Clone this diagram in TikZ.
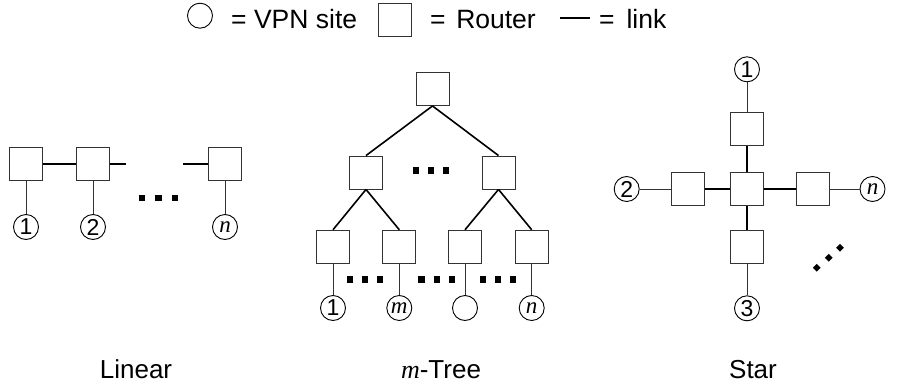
\documentclass[tikz,border=0pt]{standalone}
\usepackage{fontspec}
\setmainfont{Liberation Sans}
\newfontfamily\tnr{Liberation Serif}
\begin{document}
\begin{tikzpicture}[x=1pt,y=-1pt,
 router/.style={draw=black!80, line width=0.9pt, minimum size=33pt, inner sep=0pt, fill=white},
 site/.style={draw=black, line width=0.9pt, circle, minimum size=25pt, inner sep=0pt, font=\fontsize{23}{23}\selectfont},
 rlink/.style={line width=2pt, draw=black},
 slink/.style={line width=1pt, draw=black!80},
 sq/.style={fill=black, inner sep=0pt, minimum size=6.5pt},
 dia/.style={fill=black, inner sep=0pt, minimum size=5.5pt, rotate=45},
 lbl/.style={inner sep=0pt, font=\fontsize{26}{26}\selectfont},
 leg/.style={inner sep=0pt, anchor=base west, font=\fontsize{26.5}{26.5}\selectfont}]
\useasboundingbox (0,0) rectangle (902,388);
% legend
\node[site] (lgc) at (200,15.7) {};
\node[leg] (lgt1) at (231,28) {= VPN site};
\node[router] (lgr) at (394.5,19.5) {};
\node[leg] (lgt2) at (430,28) {=\hspace{0.4em}Router};
\coordinate (lga) at (560,18);
\coordinate (lgb) at (590,18);
\draw[line width=1.2pt] (lga) -- (lgb);
\node[leg] (lgt3) at (599,28) {=\hspace{0.45em}link};
% linear
\node[router] (l1) at (26,163.5) {};
\node[router] (l2) at (93,163.5) {};
\node[router] (ln) at (225,163.5) {};
\coordinate (l2e) at (126,163.5);
\coordinate (lns) at (183,163.5);
\draw[rlink] (l1) -- (l2);
\draw[rlink] (l2.east) -- (l2e);
\draw[rlink] (lns) -- (ln.west);
\node[site] (ls1) at (26,227) {1};
\node[site] (ls2) at (93,227) {2};
\node[site] (lsn) at (225,227) {\tnr\itshape n};
\draw[slink] (l1) -- (ls1);
\draw[slink] (l2) -- (ls2);
\draw[slink] (ln) -- (lsn);
\node[sq] (ld1) at (142,198) {};
\node[sq] (ld2) at (158.5,198) {};
\node[sq] (ld3) at (175,198) {};
\node[lbl, anchor=base] (llin) at (136,378) {Linear};
% tree
\node[router] (t0) at (432.5,89) {};
\node[router] (t1) at (366,172.5) {};
\node[router] (t2) at (498.5,172.5) {};
\node[router] (t3) at (333,246.7) {};
\node[router] (t4) at (399.3,246.7) {};
\node[router] (t5) at (465,246.7) {};
\node[router] (t6) at (531.7,246.7) {};
\draw[line width=1.6pt] (t0.south) -- (t1.north);
\draw[line width=1.6pt] (t0.south) -- (t2.north);
\draw[line width=1.6pt] (t1.south) -- (t3.north);
\draw[line width=1.6pt] (t1.south) -- (t4.north);
\draw[line width=1.6pt] (t2.south) -- (t5.north);
\draw[line width=1.6pt] (t2.south) -- (t6.north);
\node[site] (ts1) at (333,308) {1};
\node[site] (ts2) at (399.3,308) {\tnr\itshape m};
\node[site] (ts3) at (465,308) {};
\node[site] (ts4) at (531.7,308) {\tnr\itshape n};
\draw[slink] (t3) -- (ts1);
\draw[slink] (t4) -- (ts2);
\draw[slink] (t5) -- (ts3);
\draw[slink] (t6) -- (ts4);
\node[sq] (td1) at (416,170.7) {};
\node[sq] (td2) at (431,170.7) {};
\node[sq] (td3) at (446,170.7) {};
\node[sq] (te1) at (350,279.3) {};
\node[sq] (te2) at (365,279.3) {};
\node[sq] (te3) at (380,279.3) {};
\node[sq] (te4) at (421.7,279.3) {};
\node[sq] (te5) at (437,279.3) {};
\node[sq] (te6) at (452,279.3) {};
\node[sq] (te7) at (483,279.3) {};
\node[sq] (te8) at (498,279.3) {};
\node[sq] (te9) at (513,279.3) {};
\node[lbl, anchor=base] (ltree) at (441,378) {{\tnr\itshape m}-Tree};
% star
\node[router] (s0) at (747,189) {};
\node[router] (s1) at (747,129.3) {};
\node[router] (s2) at (688,189) {};
\node[router] (s3) at (813.3,189) {};
\node[router] (s4) at (747,247) {};
\draw[rlink] (s0) -- (s1);
\draw[rlink] (s0) -- (s2);
\draw[rlink] (s0) -- (s3);
\draw[rlink] (s0) -- (s4);
\node[site] (c1) at (747,69.3) {1};
\node[site] (c2) at (626.7,189) {2};
\node[site] (cn) at (872.5,189) {\tnr\itshape n};
\node[site] (c3) at (747,308.3) {3};
\draw[slink] (s1) -- (c1);
\draw[slink] (s2) -- (c2);
\draw[slink] (s3) -- (cn);
\draw[slink] (s4) -- (c3);
\node[dia] (sd1) at (816.7,267.7) {};
\node[dia] (sd2) at (828.7,257.7) {};
\node[dia] (sd3) at (840,247.7) {};
\node[lbl, anchor=base] (lstar) at (753,378) {Star};
\end{tikzpicture}
\end{document}
